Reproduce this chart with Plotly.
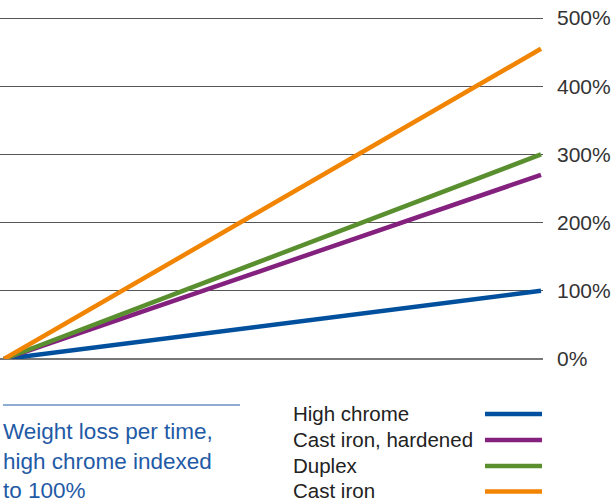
import plotly.graph_objects as go

# ---- data ----
series_names = ["High chrome", "Cast iron, hardened", "Duplex", "Cast iron"]
series_colors = ["#00509e", "#84217f", "#5a8f2f", "#f18400"]
time_points = [0, 1]
values_high_chrome = [0, 100]
values_cast_iron_hardened = [0, 270]
values_duplex = [0, 300]
values_cast_iron = [0, 455]
tick_values = [0, 100, 200, 300, 400, 500]
tick_labels = ["0%", "100%", "200%", "300%", "400%", "500%"]
note_lines = ["Weight loss per time,", "high chrome indexed", "to 100%"]

all_values = [values_high_chrome, values_cast_iron_hardened, values_duplex, values_cast_iron]

W, H = 612, 504
ML, MR, MT, MB = 0, 69, 17, 145
plot_w = W - ML - MR
plot_h = H - MT - MB
Y_TOP = 501.5


def px_x(x):
    return (x - ML) / plot_w


def px_y(y):
    return (H - MB - y) / plot_h


fig = go.Figure()
for name, color, vals in zip(series_names, series_colors, all_values):
    fig.add_trace(go.Scatter(
        x=time_points, y=vals, mode="lines", name=name,
        line=dict(color=color, width=4.5), cliponaxis=False,
        showlegend=False, hoverinfo="skip",
    ))

shapes = []
annotations = []

# legend (text left, line sample right)
legend_rows_y = [414, 440, 466, 491.5]
for name, color, ry in zip(series_names, series_colors, legend_rows_y):
    shapes.append(dict(type="line", xref="paper", yref="paper",
                       x0=px_x(485), x1=px_x(542), y0=px_y(ry), y1=px_y(ry),
                       line=dict(color=color, width=4.5)))
    annotations.append(dict(text=name, xref="paper", yref="paper",
                            x=px_x(292), y=px_y(ry - 0.5), xanchor="left", yanchor="middle",
                            showarrow=False, borderpad=0,
                            font=dict(family="Liberation Sans, Arial", size=20.5, color="#222222")))

# note block
shapes.append(dict(type="line", xref="paper", yref="paper",
                   x0=px_x(3), x1=px_x(240), y0=px_y(405), y1=px_y(405),
                   line=dict(color="#1f5aa6", width=1)))
for line_text, ry in zip(note_lines, [430.5, 460.5, 490.5]):
    annotations.append(dict(text=line_text, xref="paper", yref="paper",
                            x=px_x(2), y=px_y(ry + 0.5), xanchor="left", yanchor="middle",
                            showarrow=False, borderpad=0,
                            font=dict(family="Liberation Sans, Arial", size=22.5, color="#1f5aa6")))

fig.update_layout(
    width=W, height=H,
    margin=dict(l=ML, r=MR, t=MT, b=MB, pad=0),
    paper_bgcolor="white", plot_bgcolor="white",
    shapes=shapes, annotations=annotations,
    xaxis=dict(range=[-4 / 537, 1 + 2 / 537], showgrid=False, zeroline=False,
               showticklabels=False, showline=False, fixedrange=True),
    yaxis=dict(range=[0, Y_TOP], side="right", tickmode="array",
               tickvals=tick_values, ticktext=tick_labels,
               showgrid=True, gridcolor="#555555", gridwidth=1,
               zeroline=True, zerolinecolor="#777777", zerolinewidth=2,
               showline=False, ticks="", ticklabelstandoff=13,
               tickfont=dict(family="Liberation Sans, Arial", size=21, color="#333333"),
               fixedrange=True),
    showlegend=False,
)

fig.write_html("out.html", config={"displayModeBar": False},
               post_script="document.body.style.margin='0';")
